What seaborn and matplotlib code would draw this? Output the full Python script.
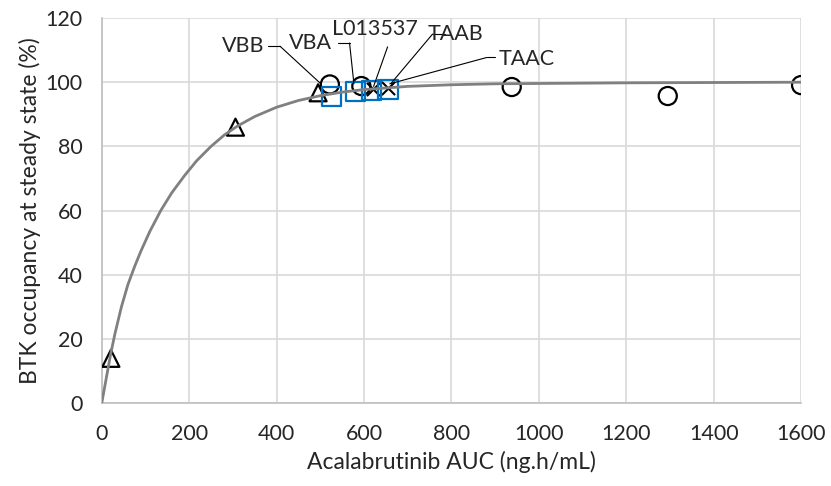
import matplotlib
matplotlib.use("Agg")
import matplotlib.pyplot as plt
import numpy as np
import pandas as pd
import seaborn as sns

# -----------------------------
# Data
# -----------------------------
curve_auc = [0, 10, 20, 30, 45, 60, 75, 90, 110, 135, 160, 190, 217, 250, 280, 310,
             350, 400, 450, 500, 550, 600, 700, 800, 900, 1000, 1200, 1400, 1600]
curve_occ = [0, 7.5, 15, 21.5, 30, 37, 42.5, 47.5, 53.5, 60, 65.5, 71, 75.5, 80, 83.5, 86.3,
             89.3, 92.2, 94.3, 95.8, 96.9, 97.7, 98.7, 99.2, 99.5, 99.6, 99.8, 99.9, 100]

tri_auc = [21, 306, 495]
tri_occ = [14, 86, 96.7]

circ_auc = [522, 594, 938, 1295, 1600]
circ_occ = [99.3, 98.8, 98.5, 95.7, 99.1]

cross_auc = [620, 655]
cross_occ = [98.0, 98.3]

sq_auc = [525, 581, 617, 655]
sq_occ = [95.5, 97.0, 97.5, 97.8]

# label, text position, stub start, stub end, point end
labels = [
    ("VBB",     (323, 111.2), 380, (408, 111.2), (503, 99.3)),
    ("VBA",     (478, 112.2), 540, (567, 112.2), (577, 99.5)),
    ("L013537", (626, 116.5), None, (654, 111.0), (622, 98.7)),
    ("TAAB",    (810, 115.0), 785, (757, 115.0), (663, 99.8)),
    ("TAAC",    (972, 107.3), 899, (881, 107.7), (659, 99.5)),
]

# -----------------------------
# Plot
# -----------------------------
sns.set_style("white")
plt.rcParams['font.family'] = ['Lato', 'DejaVu Sans']
FS = 15.5
FS_AX = 16.5

fig = plt.figure(figsize=(8.31, 4.86), dpi=100)
ax = fig.add_axes([0.1224, 0.1702, 0.8416, 0.7928])

curve = pd.DataFrame({"auc": curve_auc, "occ": curve_occ})
tri = pd.DataFrame({"auc": tri_auc, "occ": tri_occ})
circ = pd.DataFrame({"auc": circ_auc, "occ": circ_occ})
cross = pd.DataFrame({"auc": cross_auc, "occ": cross_occ})
sq = pd.DataFrame({"auc": sq_auc, "occ": sq_occ})

sns.scatterplot(data=tri, x="auc", y="occ", marker="^", s=150, facecolors="none",
                edgecolors="black", linewidth=1.6, ax=ax, zorder=3)
sns.scatterplot(data=circ, x="auc", y="occ", marker="o", s=170, facecolors="none",
                edgecolors="black", linewidth=1.6, ax=ax, zorder=3)
sns.scatterplot(data=cross, x="auc", y="occ", marker="x", s=90, color="black",
                linewidth=1.5, ax=ax, zorder=3)
sns.scatterplot(data=sq, x="auc", y="occ", marker="s", s=190, facecolors="none",
                edgecolors="#0070C0", linewidth=1.6, ax=ax, zorder=3)
sns.lineplot(data=curve, x="auc", y="occ", color="#808080", linewidth=2.0, ax=ax, zorder=4)

# leader lines and data labels
for name, txt, stub0, stub, pt in labels:
    if stub0 is not None:
        ax.plot([stub0, stub[0]], [stub[1], stub[1]], color="black",
                linewidth=0.8, zorder=5, clip_on=False)
    ax.plot([stub[0], pt[0]], [stub[1], pt[1]], color="black",
            linewidth=0.8, zorder=5, clip_on=False)
    ax.text(txt[0], txt[1], name, ha="center", va="center", fontsize=FS,
            color="#262626", zorder=6)

ax.set_xlim(0, 1600)
ax.set_ylim(0, 120)
ax.set_xticks(np.arange(0, 1601, 200))
ax.set_yticks(np.arange(0, 121, 20))
ax.grid(True, color="#D9D9D9", linewidth=1.2)
ax.set_axisbelow(True)
for s in ["top", "right"]:
    ax.spines[s].set_visible(False)
for s in ["left", "bottom"]:
    ax.spines[s].set_color("#BFBFBF")
    ax.spines[s].set_linewidth(1.2)
ax.tick_params(axis="both", labelsize=FS, length=0, labelcolor="#262626")
ax.tick_params(axis="x", pad=15)
ax.tick_params(axis="y", pad=14)
ax.set_xlabel("Acalabrutinib AUC (ng.h/mL)", fontsize=FS_AX, color="#262626", labelpad=5)
ax.set_ylabel("BTK occupancy at steady state (%)", fontsize=FS_AX, color="#262626", labelpad=3)

fig.savefig("out.png", dpi=100)
